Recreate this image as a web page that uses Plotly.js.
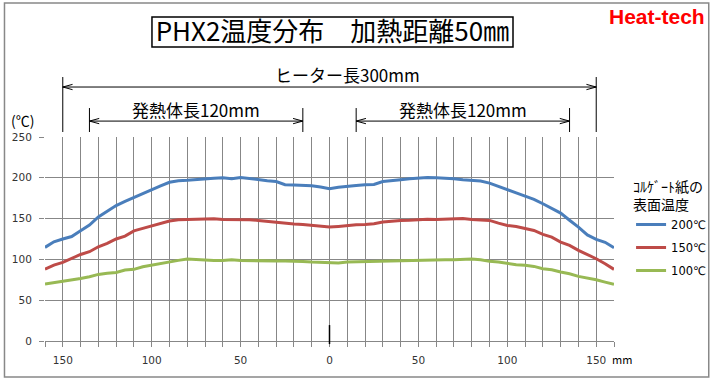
<!DOCTYPE html>
<html>
<head>
<meta charset="utf-8">
<script src="https://cdn.plot.ly/plotly-3.0.1.min.js"></script>
<style>html,body{margin:0;padding:0;background:#fff;}#chart{width:718px;height:386px;}</style>
</head>
<body>
<div id="chart"></div>
<script>
// position along heater (mm), negative = left side
const positions = [-160,-155,-150,-145,-140,-135,-130,-125,-120,-115,-110,-105,-100,-95,-90,-85,-80,-75,-70,-65,-60,-55,-50,-45,-40,-35,-30,-25,-20,-15,-10,-5,0,5,10,15,20,25,30,35,40,45,50,55,60,65,70,75,80,85,90,95,100,105,110,115,120,125,130,135,140,145,150,155,160];
const temp200 = [114.7,121.6,125,128,135,142,152,159,166,171,176,180.5,185,190,194.5,196.5,197,198,198.8,199.5,200,199,200.5,199,198,196.5,195.5,191.5,191.3,190.6,190.3,188.6,186.5,188.5,189.8,190.6,191.4,191.8,195.5,196.2,197.6,198.8,199.6,200.3,200,199.6,198.8,197.6,196.7,196,193.5,189.8,185.3,181.6,177.6,173.5,168.2,162,156.7,148,139.6,130,124.5,121,114.3];
const temp150 = [88,93,96.3,101,106,109.4,115.5,119.6,125,128.6,135,138,140.8,143.5,147,148.5,148.8,149.2,150,149.8,148.8,149,148.7,148.6,147.8,146.5,145.3,143.7,143.3,142.9,141.8,141.5,139.6,140.4,141.6,142.4,142.9,143.7,145.7,147,147.8,147.9,149,149.2,149,149.3,150,150,148.8,148.6,147.8,144.5,141.6,140.4,137.6,135.5,130.6,127.3,121.2,117.1,111,106,100.8,94.7,87.8];
const temp100 = [69.8,71.4,72.7,74.7,76.7,78.8,81.6,82.9,84,87,87.8,91,93,95,97.6,98.8,100.4,99.6,98.8,98.8,98.8,99.6,98.8,98.4,98,97.6,98,98,98,97.5,96.7,96,95.5,95.5,96.7,97,97.6,97.8,98,98.4,98.8,98.8,98.8,99.2,99.6,99.6,99.6,100,100.4,99.6,97.6,96.7,94.7,93.5,92.7,91.4,88.6,87.3,84.5,82.4,79.2,77.6,75.1,72.2,69.4];
const seriesNames = ['200℃','150℃','100℃'];
const xTickVals = [-150,-100,-50,0,50,100,150];
const xTickText = ['150','100','50','0','50','100','150'];
const yTickVals = [0,50,100,150,200,250];
const yGridVals = [50,100,150,200];
const heaterSpan = [-150,150];
const elementLeft = [-135,-15];
const elementRight = [15,135];

const colors = ['#4A7EBB','#BE4B48','#98B954'];
const grid = '#878787';
const jp = '"Noto Sans CJK JP", "Noto Sans", sans-serif';

const traces = [temp200,temp150,temp100].map((ys,i)=>({
  x: positions, y: ys, type:'scatter', mode:'lines', name: seriesNames[i],
  legendgroup: 'g'+i,
  line:{color:colors[i], width:3}
}));

// open V arrowhead at xTip pointing outward (dir -1 left, +1 right)
function arrowHead(xTip, yP, dir){
  const dx = 5.5*(-dir);
  const dy = 0.013;
  return {type:'path', xref:'x', yref:'paper',
    path:`M ${xTip+dx},${yP+dy} L ${xTip},${yP} L ${xTip+dx},${yP-dy}`,
    line:{color:'#000', width:1}};
}
function dimLine(span, yP, yTop, yBot){
  return [
    {type:'line', xref:'x', yref:'paper', x0:span[0], x1:span[1], y0:yP, y1:yP, line:{color:'#000', width:1}},
    {type:'line', xref:'x', yref:'paper', x0:span[0], x1:span[0], y0:yBot, y1:yTop, line:{color:'#000', width:1}},
    {type:'line', xref:'x', yref:'paper', x0:span[1], x1:span[1], y0:yBot, y1:yTop, line:{color:'#000', width:1}},
    arrowHead(span[0], yP, -1),
    arrowHead(span[1], yP, 1)
  ];
}

const shapes = [].concat(
  dimLine(heaterSpan, 1.245, 1.294, 1.0245),
  dimLine(elementLeft, 1.078, 1.142, 1.0245),
  dimLine(elementRight, 1.078, 1.142, 1.0245),
  [
    {type:'rect', xref:'paper', yref:'paper', x0:0.188, x1:0.8225, y0:1.441, y1:1.588, line:{color:'#000', width:1.5}},
    {type:'rect', xref:'paper', yref:'paper', x0:-0.0712, x1:1.1665, y0:-0.1765, y1:1.657, line:{color:'#888', width:1.5}},
    {type:'line', xref:'x', yref:'paper', x0:0, x1:0, y0:-0.015, y1:0.078, line:{color:'#000', width:1.5}}
  ]
);

const annotations = [
  {text:'Heat-tech', xref:'paper', yref:'paper', x:1.0756, y:1.593, xanchor:'center', yanchor:'middle', showarrow:false,
   font:{family:'"Liberation Sans", Arial, sans-serif', size:21, color:'#FF0000', weight:'bold'}},
  {text:'ヒーター長300mm', xref:'paper', yref:'paper', x:0.531, y:1.304, xanchor:'center', yanchor:'middle', showarrow:false,
   font:{family:jp, size:17, color:'#000'}},
  {text:'発熱体長120mm', xref:'x', yref:'paper', x:(elementLeft[0]+elementLeft[1])/2, y:1.135, xanchor:'center', yanchor:'middle', showarrow:false,
   font:{family:jp, size:17, color:'#000'}},
  {text:'発熱体長120mm', xref:'x', yref:'paper', x:(elementRight[0]+elementRight[1])/2, y:1.135, xanchor:'center', yanchor:'middle', showarrow:false,
   font:{family:jp, size:17, color:'#000'}},
  {text:'(℃)', xref:'paper', yref:'paper', x:-0.0404, y:1.083, xanchor:'center', yanchor:'middle', showarrow:false,
   font:{family:jp, size:14, color:'#000'}},
  {text:'mm', xref:'paper', yref:'paper', x:0.993, y:-0.088, xanchor:'left', yanchor:'middle', showarrow:false,
   font:{family:jp, size:11, color:'#000'}}
];

const layout = {
  width:718, height:386,
  margin:{l:45, r:104, t:137, b:45, pad:0, autoexpand:false},
  paper_bgcolor:'#fff', plot_bgcolor:'#fff',
  title:{text:'PHX2温度分布\u3000加熱距離50㎜', xref:'container', yref:'container', x:0.463, y:0.917, xanchor:'center', yanchor:'middle',
    font:{family:jp, size:26, color:'#000'}},
  showlegend:true,
  legend:{x:1.03, xanchor:'left', y:0.82, yanchor:'top', bgcolor:'rgba(0,0,0,0)', borderwidth:0,
    traceorder:'grouped', tracegroupgap:4,
    title:{text:'ｺﾙｹﾞｰﾄ紙の<br>表面温度', side:'top', font:{family:jp, size:14, color:'#000'}},
    font:{family:'"DejaVu Sans", sans-serif', size:11.5, color:'#000'}},
  xaxis:{range:[-160,160], tickmode:'array', tickvals:xTickVals, ticktext:xTickText,
    ticks:'outside', ticklen:5, tickcolor:grid, tickwidth:1, ticklabelstandoff:4,
    showgrid:true, gridcolor:grid, gridwidth:1, zeroline:false,
    showline:true, linecolor:grid, linewidth:1,
    minor:{tickmode:'linear', tick0:0, dtick:10, ticks:'outside', ticklen:5, tickcolor:grid, showgrid:true, gridcolor:grid, gridwidth:1},
    tickfont:{family:'"DejaVu Sans", sans-serif', size:10.5, color:'#333'}, fixedrange:true},
  yaxis:{range:[0,250], tickmode:'array', tickvals:yTickVals,
    ticks:'outside', ticklen:5, tickcolor:grid, tickwidth:1, ticklabelstandoff:5,
    showgrid:false, zeroline:false, showline:false,
    minor:{tickmode:'array', tickvals:yGridVals, ticks:'', showgrid:true, gridcolor:grid, gridwidth:1},
    tickfont:{family:'"DejaVu Sans", sans-serif', size:10.5, color:'#333'}, fixedrange:true},
  shapes: shapes,
  annotations: annotations
};

Plotly.newPlot('chart', traces, layout, {staticPlot:true, displayModeBar:false});
</script>
</body>
</html>
